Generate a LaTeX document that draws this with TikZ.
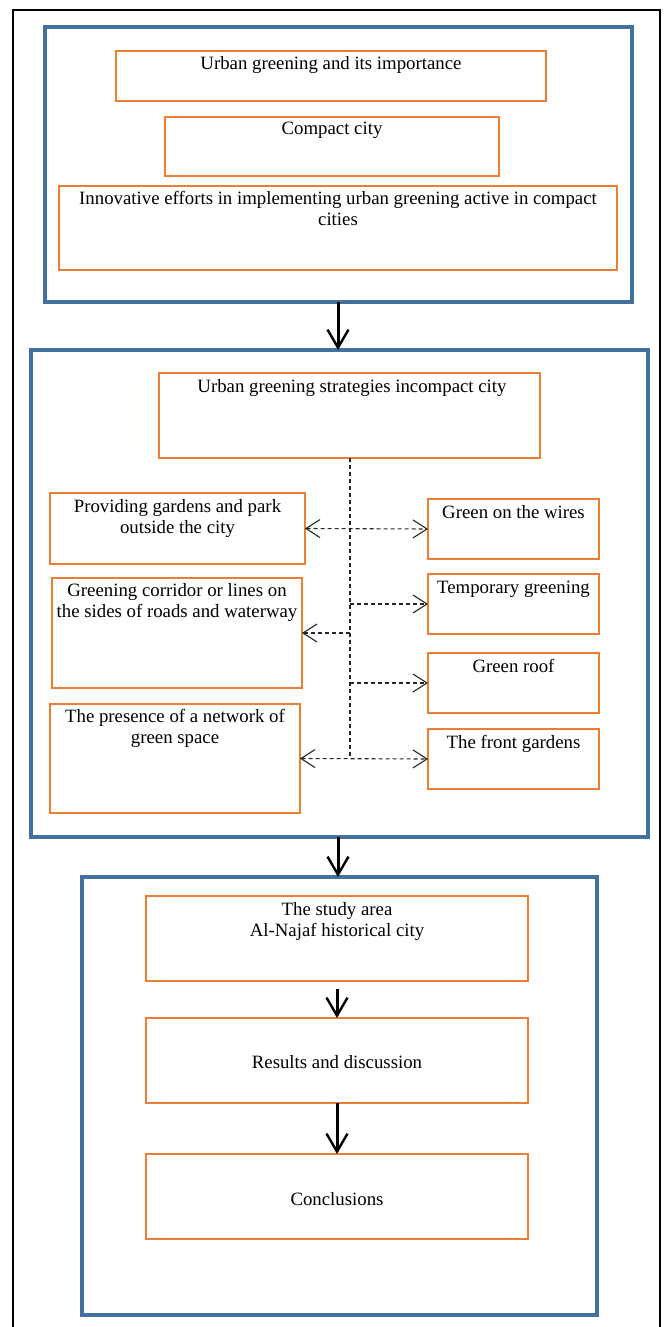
\documentclass[tikz,border=0pt]{standalone}
\usepackage{fontspec}
\setmainfont{Liberation Serif}
\usetikzlibrary{arrows.meta}
\definecolor{boxorange}{HTML}{ED7D31}
\definecolor{boxblue}{HTML}{41719C}
\begin{document}
\begin{tikzpicture}[x=1pt,y=-1pt,
  obox/.style={draw=boxorange,line width=2.6pt,rectangle,inner sep=0pt,outer sep=0pt},
  bbox/.style={draw=boxblue,line width=3.2pt,rectangle,inner sep=0pt,outer sep=0pt},
  txt/.style={inner sep=0pt,align=center,font=\fontsize{18.8}{21}\selectfont,anchor=base},
  mainarrow/.style={line width=3pt,-{Straight Barb[length=18pt,width=21pt,line width=2.4pt]}},
  dashline/.style={dashed,dash pattern=on 4pt off 3pt,line width=1.1pt,black!85},
  dasharrow/.style={dashline,{Straight Barb[length=14pt,width=18pt,line width=1.1pt]}-{Straight Barb[length=14pt,width=18pt,line width=1.1pt]}},
  dashright/.style={dashline,-{Straight Barb[length=14pt,width=18pt,line width=1.1pt]}},
  dashleft/.style={dashline,{Straight Barb[length=14pt,width=18pt,line width=1.1pt]}-}
]
\useasboundingbox (0,0) rectangle (664,1327);
\fill[white] (0,0) rectangle (664,1327);
% outer frame
\coordinate (fbl) at (13,1330);
\coordinate (ftl) at (13,10);
\coordinate (ftr) at (660,10);
\coordinate (fbr) at (660,1330);
\draw[line width=2.2pt] (fbl) -- (ftl) -- (ftr) -- (fbr);

% group 1
\node[bbox,minimum width=587pt,minimum height=275pt] (B1) at (338.5,164.5) {};
\node[obox,minimum width=430pt,minimum height=50pt] (O1) at (331,76) {};
\node[obox,minimum width=334pt,minimum height=59pt] (O2) at (332,146.5) {};
\node[obox,minimum width=558pt,minimum height=84pt] (O3) at (338,228) {};
\node[txt] (t1) at (331,70) {Urban greening and its importance};
\node[txt] (t2) at (332,135) {Compact city};
\node[txt] (t3) at (338,225) {Innovative efforts in implementing urban greening active in compact\\cities};

% group 2
\node[bbox,minimum width=617pt,minimum height=487pt] (B2) at (339.5,593.5) {};
\node[obox,minimum width=381pt,minimum height=85pt] (S) at (349.5,415.5) {};
\node[obox,minimum width=255pt,minimum height=71pt] (L1) at (177.5,528.5) {};
\node[obox,minimum width=250pt,minimum height=110pt] (L2) at (177,633) {};
\node[obox,minimum width=250pt,minimum height=109pt] (L3) at (175,758.5) {};
\node[obox,minimum width=171pt,minimum height=60pt] (R1) at (513.5,529) {};
\node[obox,minimum width=171pt,minimum height=60pt] (R2) at (513.5,604) {};
\node[obox,minimum width=171pt,minimum height=60pt] (R3) at (513.5,683) {};
\node[obox,minimum width=171pt,minimum height=60pt] (R4) at (513.5,759) {};
\node[txt] (ts) at (352,392) {Urban greening strategies incompact city};
\node[txt] (tl1) at (177.5,533) {Providing gardens and park\\outside the city};
\node[txt] (tl2) at (177,617) {Greening corridor or lines on\\the sides of roads and waterway};
\node[txt] (tl3) at (175,743) {The presence of a network of\\green space};
\node[txt] (tr1) at (513.5,518) {Green on the wires};
\node[txt] (tr2) at (513.5,593) {Temporary greening};
\node[txt] (tr3) at (513.5,672) {Green roof};
\node[txt] (tr4) at (513.5,748) {The front gardens};

\coordinate (vtop) at (350,458);
\coordinate (vbot) at (350,758.5);
\draw[dashline] (vtop) -- (vbot);
\draw[dasharrow] (L1.east) -- (R1.west);
\draw[dashright] (vtop |- R2.west) -- (R2.west);
\draw[dashleft] (L2.east) -- (vtop |- L2.east);
\draw[dashright] (vtop |- R3.west) -- (R3.west);
\draw[dasharrow] (L3.east) -- (R4.west);

% group 3
\node[bbox,minimum width=515pt,minimum height=438pt] (B3) at (339.5,1096) {};
\node[obox,minimum width=382pt,minimum height=85pt] (SA) at (337,938.5) {};
\node[obox,minimum width=382pt,minimum height=85pt] (RD) at (337,1060.5) {};
\node[obox,minimum width=382pt,minimum height=85pt] (CO) at (337,1196.5) {};
\node[txt] (tsa) at (337,936) {The study area\\Al-Najaf historical city};
\node[txt] (trd) at (337,1068) {Results and discussion};
\node[txt] (tco) at (337,1205) {Conclusions};

% main arrows
\coordinate (a1) at (338,0);
\draw[mainarrow] (B1.south -| a1) -- (B2.north -| a1);
\draw[mainarrow] (B2.south -| a1) -- (B3.north -| a1);
\draw[mainarrow,shorten <=8pt] (SA.south) -- (RD.north);
\draw[mainarrow] (RD.south) -- (CO.north);
\end{tikzpicture}
\end{document}
